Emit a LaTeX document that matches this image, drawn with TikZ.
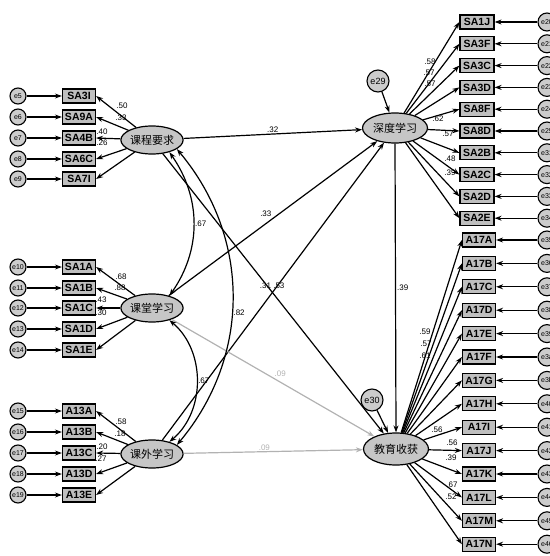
\documentclass[tikz,border=0pt]{standalone}
\usepackage{fontspec}
\setmainfont{Liberation Sans}
\newfontfamily\cjk{Noto Sans CJK SC}
\usepackage{tikz}
\usetikzlibrary{arrows.meta, shapes.geometric}

\begin{document}
\begin{tikzpicture}[x=1pt, y=-1pt, >={Stealth[length=7pt, width=5pt]},
    latent/.style={ellipse, draw, line width=1.2pt, fill=gray!45, minimum width=58pt, minimum height=28pt, inner sep=0pt, font=\cjk\fontsize{11}{11}\selectfont},
    item/.style={rectangle, draw, line width=1.2pt, fill=gray!50, minimum width=33pt, minimum height=14pt, inner sep=0pt, font=\bfseries\fontsize{10.5}{10.5}\selectfont},
    err/.style={circle, draw, line width=1.1pt, fill=gray!40, minimum size=16pt, inner sep=0pt, font=\fontsize{7}{7}\selectfont},
    coef/.style={inner sep=1pt, font=\fontsize{8}{8}\selectfont},
    path/.style={->, line width=1.2pt},
    weak/.style={->, line width=1.2pt, gray!60},
    cov/.style={<->, line width=1.2pt}]
    \useasboundingbox (0,0) rectangle (549,556);

    % latent variables
    \node[latent] (kc) at (152,140) {课程要求};
    \node[latent] (kt) at (152,308) {课堂学习};
    \node[latent] (kw) at (152,454) {课外学习};
    \node[latent, minimum width=65pt, minimum height=30pt] (dl) at (395,128) {深度学习};
    \node[latent, minimum width=65pt, minimum height=32pt] (jy) at (396,449) {教育收获};
    \node[err, minimum size=22pt, font=\fontsize{9}{9}\selectfont] (e29) at (378,81) {e29};
    \node[err, minimum size=22pt, font=\fontsize{9}{9}\selectfont] (e30) at (372,400) {e30};
    \draw[path] (e29) -- (dl);
    \draw[path] (e30) -- (jy);

    % left indicators
    \foreach \lab/\yy/\e [count=\i] in {SA3I/96/e5, SA9A/117/e6, SA4B/138/e7, SA6C/159/e8, SA7I/179/e9} {
        \node[item] (kc\i) at (79,\yy) {\lab};
        \node[err] (kce\i) at (18,\yy) {\e};
        \draw[path] (kce\i) -- (kc\i);
        \draw[path] (kc) -- (kc\i.east);
    }
    \foreach \lab/\yy/\e [count=\i] in {SA1A/267/e10, SA1B/288/e11, SA1C/308/e12, SA1D/329/e13, SA1E/350/e14} {
        \node[item] (kt\i) at (79,\yy) {\lab};
        \node[err] (kte\i) at (18,\yy) {\e};
        \draw[path] (kte\i) -- (kt\i);
        \draw[path] (kt) -- (kt\i.east);
    }
    \foreach \lab/\yy/\e [count=\i] in {A13A/411/e15, A13B/432/e16, A13C/453/e17, A13D/474/e18, A13E/495/e19} {
        \node[item] (kw\i) at (79,\yy) {\lab};
        \node[err] (kwe\i) at (18,\yy) {\e};
        \draw[path] (kwe\i) -- (kw\i);
        \draw[path] (kw) -- (kw\i.east);
    }

    % right indicators
    \foreach \lab/\e [count=\i] in {SA1J/e20, SA3F/e21, SA3C/e22, SA3D/e23, SA8F/e24, SA8D/e25, SA2B/e31, SA2C/e32, SA2D/e33, SA2E/e34} {
        \pgfmathsetmacro\yy{22+21.8*(\i-1)}
        \node[item, minimum width=34pt] (dl\i) at (477,\yy) {\lab};
        \node[err, minimum size=18pt] (dle\i) at (547,\yy) {\e};
        \draw[path] (dle\i) -- (dl\i);
        \draw[path] (dl) -- (dl\i.west);
    }
    \foreach \lab/\e [count=\i] in {A17A/e35, A17B/e36, A17C/e37, A17D/e38, A17E/e39, A17F/e3a, A17G/e3b, A17H/e40, A17I/e41, A17J/e42, A17K/e43, A17L/e44, A17M/e45, A17N/e46} {
        \pgfmathsetmacro\yy{240+23.4*(\i-1)}
        \node[item] (jy\i) at (479,\yy) {\lab};
        \node[err, minimum size=18pt] (jye\i) at (547,\yy) {\e};
        \draw[path] (jye\i) -- (jy\i);
        \draw[path] (jy) -- (jy\i.west);
    }

    % loadings
    \foreach \v/\x/\y [count=\i] in {.50/122/106, .33/121/118, .40/102/132, .26/102/143,
        .68/121/277, .88/120/288, .43/101/300, .30/101/313,
        .58/121/422, .18/120/434, .20/102/447, .27/101/459,
        .58/430/62, .57/429/73, .57/430/84, .62/438/119, .57/448/134, .48/450/159, .39/450/173,
        .59/425/332, .57/426/344, .61/425/356, .56/437/430, .56/452/443, .39/451/458, .67/452/485, .52/451/497} {
        \node[coef] (ld\i) at (\x,\y) {\v};
    }

    % structural paths
    \draw[path] (kc) -- (dl) node[coef, pos=0.5, above] {.32};
    \draw[path] (kt) -- (dl) node[coef, pos=0.5, above left] {.33};
    \draw[path] (kw) -- (dl) node[coef, pos=0.52, left=5pt] {.31};
    \draw[path] (kc) -- (jy) node[coef, pos=0.47, right=5pt] {.53};
    \draw[weak] (kt) -- (jy) node[coef, pos=0.5, above right] {.09};
    \draw[weak] (kw) -- (jy) node[coef, pos=0.45, above] {.09};
    \draw[path] (dl.south) -- (jy.north) node[coef, pos=0.5, right] {.39};

    % covariances
    \draw[cov] (kc.-35) to[bend left=35] node[coef, right] {.67} (kt.35);
    \draw[cov] (kc.-20) to[bend left=40] node[coef, pos=0.55, right] {.82} (kw.20);
    \draw[cov] (kt.-35) to[bend left=50] node[coef, right] {.67} (kw.35);
\end{tikzpicture}
\end{document}
